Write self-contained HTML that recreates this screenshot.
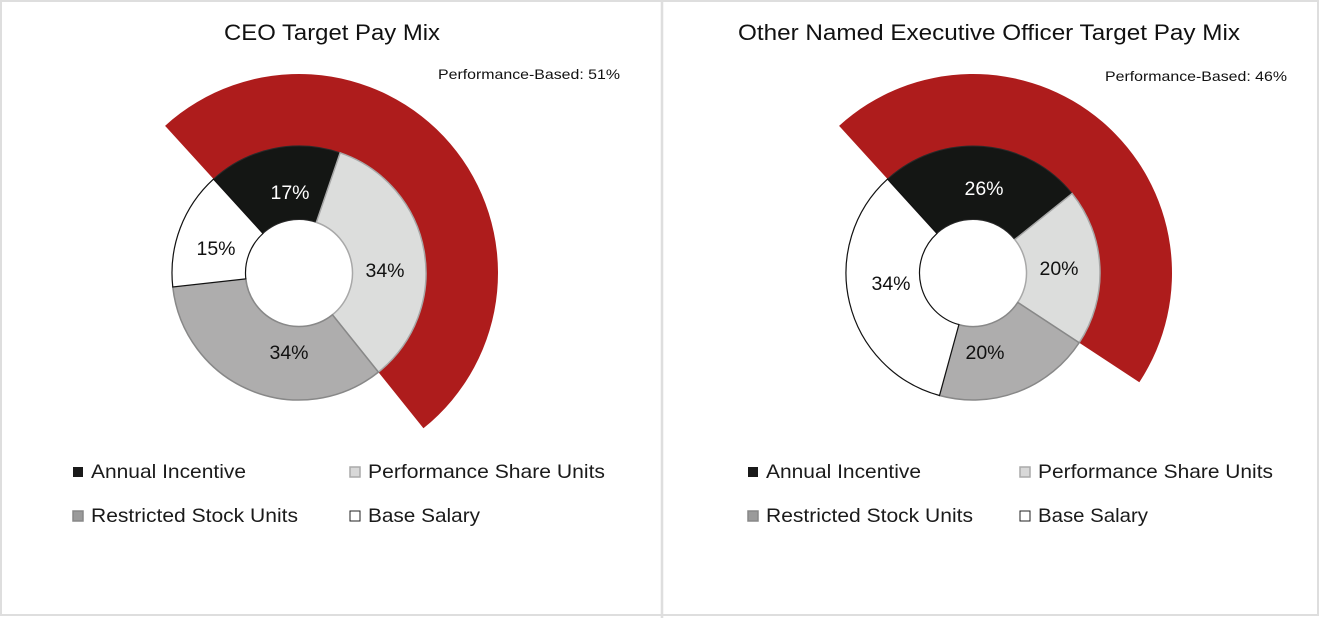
<!DOCTYPE html>
<html><head><meta charset="utf-8">
<style>
html,body{margin:0;padding:0;background:#fff;}
svg{display:block;font-family:"Liberation Sans",Arial,sans-serif;}
</style></head>
<body>
<svg id="s" width="1320" height="618" viewBox="0 0 1320 618" xmlns="http://www.w3.org/2000/svg">
<rect x="0" y="0" width="1320" height="618" fill="#fff"/>
<rect x="1" y="1" width="1317" height="614" fill="none" stroke="#dedede" stroke-width="2"/>
<line x1="662" y1="0" x2="662" y2="618" stroke="#dedede" stroke-width="2.5"/>
<g id="g"></g>
<text x="224" y="40" font-size="22" textLength="216" lengthAdjust="spacingAndGlyphs" fill="#111">CEO Target Pay Mix</text>
<text x="738" y="40" font-size="22" textLength="502" lengthAdjust="spacingAndGlyphs" fill="#111">Other Named Executive Officer Target Pay Mix</text>
<text x="438" y="79" font-size="14" textLength="182" lengthAdjust="spacingAndGlyphs" fill="#111">Performance-Based: 51%</text>
<text x="1105" y="81" font-size="14" textLength="182" lengthAdjust="spacingAndGlyphs" fill="#111">Performance-Based: 46%</text>
<g font-size="19.5" fill="#1a1a1a">
<rect x="73" y="467" width="10" height="10" fill="#1a1a1a"/>
<text x="91" y="478" textLength="155" lengthAdjust="spacingAndGlyphs">Annual Incentive</text>
<rect x="350" y="467" width="10" height="10" fill="#d8d8d8" stroke="#aaa" stroke-width="1.5"/>
<text x="368" y="478" textLength="237" lengthAdjust="spacingAndGlyphs">Performance Share Units</text>
<rect x="73" y="511" width="10" height="10" fill="#9a9a9a" stroke="#888" stroke-width="1.5"/>
<text x="91" y="522" textLength="207" lengthAdjust="spacingAndGlyphs">Restricted Stock Units</text>
<rect x="350" y="511" width="10" height="10" fill="#fff" stroke="#222" stroke-width="1"/>
<text x="368" y="522" textLength="112" lengthAdjust="spacingAndGlyphs">Base Salary</text>
<rect x="748" y="467" width="10" height="10" fill="#1a1a1a"/>
<text x="766" y="478" textLength="155" lengthAdjust="spacingAndGlyphs">Annual Incentive</text>
<rect x="1020" y="467" width="10" height="10" fill="#d8d8d8" stroke="#aaa" stroke-width="1.5"/>
<text x="1038" y="478" textLength="235" lengthAdjust="spacingAndGlyphs">Performance Share Units</text>
<rect x="748" y="511" width="10" height="10" fill="#9a9a9a" stroke="#888" stroke-width="1.5"/>
<text x="766" y="522" textLength="207" lengthAdjust="spacingAndGlyphs">Restricted Stock Units</text>
<rect x="1020" y="511" width="10" height="10" fill="#fff" stroke="#222" stroke-width="1"/>
<text x="1038" y="522" textLength="110" lengthAdjust="spacingAndGlyphs">Base Salary</text>
</g>
</svg>
<script>
function pt(cx,cy,r,a){var t=a*Math.PI/180;return [cx+r*Math.sin(t),cy-r*Math.cos(t)];}
function arc(cx,cy,r0,r1,a0,a1){
 var p1=pt(cx,cy,r1,a0),p2=pt(cx,cy,r1,a1),p3=pt(cx,cy,r0,a1),p4=pt(cx,cy,r0,a0);
 var l=(a1-a0)>180?1:0;
 return "M"+p1+" A"+r1+","+r1+" 0 "+l+" 1 "+p2+" L"+p3+" A"+r0+","+r0+" 0 "+l+" 0 "+p4+"Z";
}
var g=document.getElementById('g'),NS="http://www.w3.org/2000/svg";
function add(d,fill,stroke,sw){var p=document.createElementNS(NS,'path');p.setAttribute('d',d);p.setAttribute('fill',fill);if(stroke){p.setAttribute('stroke',stroke);p.setAttribute('stroke-width',sw);}g.appendChild(p);}
function txt(x,y,s,c){var t=document.createElementNS(NS,'text');t.setAttribute('x',x);t.setAttribute('y',y);t.setAttribute('font-size','19.5');t.setAttribute('text-anchor','middle');t.setAttribute('fill',c);t.textContent=s;g.appendChild(t);}
function chart(cx,cy,vals,perf){
 var s=-42.3, ri=53.5, ro=127;
 add(arc(cx,cy,ro-1,199,s,s+perf*3.6),"#ae1c1c");
 var cols=[["#141614","#2a2a2a",1],["#dcdddc","#a8a8a8",1.5],["#aeadad","#888",1.5],["#ffffff","#111",1.2]];
 var a=s;
 for(var i=0;i<4;i++){var b=a+vals[i]*3.6;add(arc(cx,cy,ri,ro,a,b),cols[i][0],cols[i][1],cols[i][2]);a=b;}
}
chart(299,273,[17,34,34,15],51);
chart(973,273,[26,20,20,34],46);
txt(290,199,"17%","#fff");txt(216,255,"15%","#111");txt(385,277,"34%","#111");txt(289,359,"34%","#111");
txt(984,195,"26%","#fff");txt(891,290,"34%","#111");txt(1059,275,"20%","#111");txt(985,359,"20%","#111");
</script>
</body></html>
